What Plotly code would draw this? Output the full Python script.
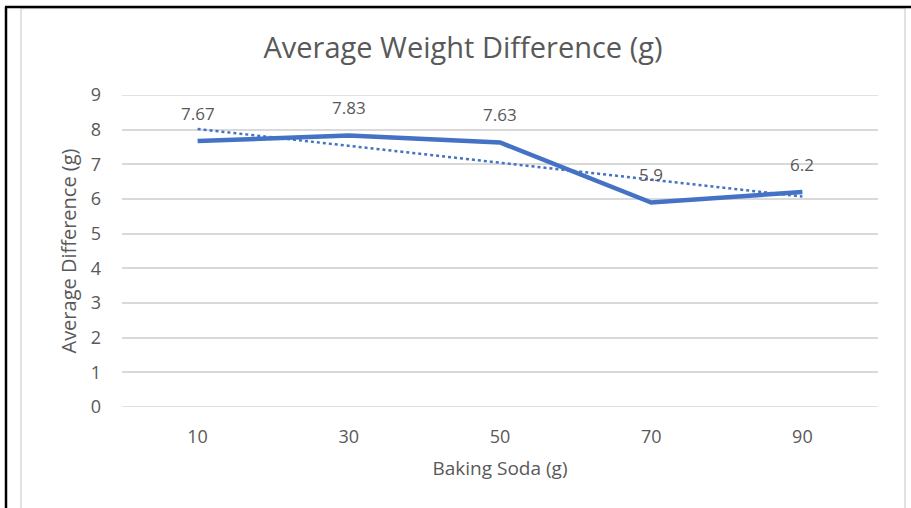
import numpy as np
import plotly.graph_objects as go

# Baking soda amounts (g) and the average weight difference measured for each
baking_soda = ["10", "30", "50", "70", "90"]
avg_difference = [7.67, 7.83, 7.63, 5.9, 6.2]
value_labels = ["7.67", "7.83", "7.63", "5.9", "6.2"]
y_ticks = list(range(0, 10))

W, H = 911, 508
L, R, T, B = 122, 33, 95, 101
plot_w = W - L - R
plot_h = H - T - B

# Linear trendline fitted over the category positions
idx = np.arange(len(avg_difference))
slope, intercept = np.polyfit(idx, avg_difference, 1)
trend = slope * idx + intercept

blue = "#4472C4"
grey_text = "#595959"
grid = "#d9d9d9"
font = "Open Sans"

fig = go.Figure()
fig.add_trace(go.Scatter(
    x=baking_soda, y=avg_difference, mode="lines",
    line=dict(color=blue, width=4.5), showlegend=False, hoverinfo="skip",
))
fig.add_trace(go.Scatter(
    x=baking_soda, y=trend, mode="lines",
    line=dict(color=blue, width=2.5, dash="dot"), showlegend=False, hoverinfo="skip",
))

# value labels above each point (category axes take the index as position)
for i, (val, txt) in enumerate(zip(avg_difference, value_labels)):
    fig.add_annotation(x=i, y=val, xref="x", yref="y", text=txt, showarrow=False,
                       yshift=28, font=dict(family=font, size=17, color=grey_text))


def px_x(px):
    return (px - L) / plot_w


def px_y(py):
    return (H - B - py) / plot_h


shapes = [
    # light inner frame
    dict(type="rect", xref="paper", yref="paper",
         x0=px_x(21), x1=px_x(905), y0=px_y(520), y1=px_y(8.5),
         line=dict(color=grid, width=1.5)),
    # dark outer edges
    dict(type="line", xref="paper", yref="paper",
         x0=px_x(5), x1=px_x(915), y0=px_y(7), y1=px_y(7),
         line=dict(color="black", width=2.5)),
    dict(type="line", xref="paper", yref="paper",
         x0=px_x(6), x1=px_x(6), y0=px_y(7), y1=px_y(520),
         line=dict(color="black", width=2.5)),
]
# gridlines at the bottom and top of the value range
for v in (y_ticks[0], y_ticks[-1]):
    shapes.append(dict(type="line", xref="paper", yref="y", x0=0, x1=1, y0=v, y1=v,
                       layer="below", line=dict(color=grid, width=1.5)))

fig.update_layout(
    width=W, height=H,
    margin=dict(l=L, r=R, t=T, b=B),
    paper_bgcolor="white", plot_bgcolor="white",
    font=dict(family=font, color=grey_text, size=18),
    title=dict(text="Average Weight Difference (g)", x=463 / W, xref="container",
               xanchor="center", y=1 - 48 / H, yanchor="middle",
               font=dict(family=font, size=29, color=grey_text)),
    shapes=shapes,
    xaxis=dict(
        type="category", range=[-0.5, len(baking_soda) - 0.5],
        showgrid=False, showline=False, zeroline=False, ticks="",
        tickfont=dict(size=18, color=grey_text), ticklabelstandoff=17,
        title=dict(text="Baking Soda (g)", standoff=14,
                   font=dict(size=19, color=grey_text)),
    ),
    yaxis=dict(
        range=[0, 9], tickvals=y_ticks, showgrid=True, gridcolor=grid,
        gridwidth=1.5, zeroline=False, showline=False, ticks="",
        tickfont=dict(size=18, color=grey_text), ticklabelstandoff=20,
        title=dict(text="Average Difference (g)", standoff=8,
                   font=dict(size=20, color=grey_text)),
    ),
)

fig.write_html("out.html")
